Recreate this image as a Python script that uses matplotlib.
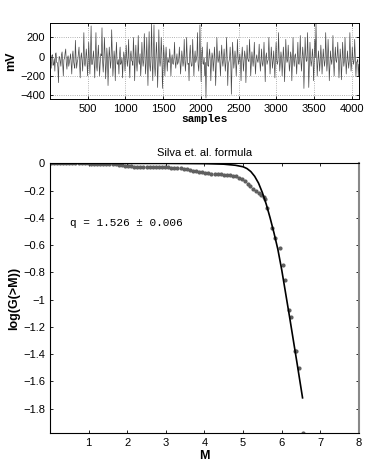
import numpy as np
import matplotlib
matplotlib.use("Agg")
import matplotlib.pyplot as plt

plt.rcParams['font.family'] = ['Liberation Sans', 'DejaVu Sans']

# ---- top panel: EEG trace (estimated peaks, 16 values per 256-sample block) ----
signal_peaks_mv = [
    60,-120,20,-80,-150,40,-60,-270,0,-100,50,-200,-20,80,-130,10,
    -60,30,-180,60,-90,170,-120,-30,100,-220,40,-150,250,-100,80,-200,
    150,-180,320,-80,60,-220,250,-150,120,-200,30,300,-160,200,-230,90,
    -300,100,-120,280,-200,60,-250,150,-80,-180,100,-60,-220,50,-150,120,
    -100,180,-220,60,-50,200,-250,120,-150,220,-80,-200,150,-100,240,-180,
    200,-300,260,-150,350,-250,330,-200,150,-320,280,-100,200,-330,120,-200,
    100,-150,-50,80,-200,20,-80,150,-120,30,-60,100,-180,60,-100,180,
    -150,200,-80,-250,120,-100,180,-200,60,-30,250,-150,330,-260,100,-80,
    -200,-430,150,-100,80,-250,40,-150,100,-300,200,-60,60,-200,120,-100,
    80,-150,200,-300,-50,100,-390,150,-120,60,-200,180,-80,30,-250,100,
    -150,60,-270,120,-40,180,-200,50,-100,150,-180,20,-60,130,-150,80,
    -100,150,-260,40,-50,200,-180,100,-120,60,-220,150,-80,250,-150,50,
    -200,100,-260,180,-60,120,-150,50,-250,200,-100,30,-180,150,-80,220,
    -150,100,-330,200,-50,250,-320,150,-100,80,-250,180,350,-200,60,-150,
    120,-180,80,-100,250,-150,180,-250,60,-80,220,-200,100,-60,150,-220,
    80,-240,150,-100,200,-180,60,-120,250,-150,100,-80,180,-200,-50,-200,
]
# smaller in-between excursions (the dark band around the baseline)
signal_minor_mv = [
    -40,10,-90,-20,30,-60,-110,0,-50,20,-80,-30,40,-70,-10,-100,
    -20,-80,10,-50,-120,0,-60,30,-90,-10,-40,20,-70,-30,0,-60,
    -30,40,-80,-10,-60,20,-100,0,-40,-70,10,-50,-20,30,-90,-10,
    -60,0,-40,30,-90,-20,10,-70,-30,20,-80,-10,-50,0,-40,-20,
    -20,-70,10,-40,-90,20,-30,-60,0,-50,30,-80,-10,-40,10,-70,
    -50,30,-90,0,-60,40,-100,-20,20,-70,-10,-40,30,-90,0,-30,
    -30,-10,-60,-20,-40,-70,-10,-50,-30,-80,-20,-40,-60,-10,-50,-30,
    -40,-10,-70,20,-50,-90,0,-30,-60,10,-80,-20,-40,30,-70,-10,
    -60,-20,-90,10,-40,-70,0,-50,-20,-80,10,-30,-60,0,-40,-20,
    -30,-60,0,-80,-20,-40,-100,10,-50,-20,-70,0,-40,-60,-10,-30,
    -40,0,-70,-20,-50,10,-80,-30,-10,-60,-20,-40,0,-50,-30,-70,
    -20,-50,0,-80,-30,10,-60,-20,-40,-70,0,-30,-50,20,-60,-10,
    -50,-10,-70,20,-40,-20,-80,0,-60,-30,10,-50,-20,-70,0,-40,
    -30,0,-90,20,-40,10,-80,-20,-50,0,-70,-10,30,-60,-20,-40,
    -10,-60,-20,-40,20,-50,-10,-80,-30,0,-60,-20,-40,10,-30,-70,
    -20,-80,0,-40,-10,-60,-30,-50,10,-70,-20,-40,0,-60,-30,-80,
]
n_samples = 4096
top_xticks = [500, 1000, 1500, 2000, 2500, 3000, 3500, 4000]
top_yticks = [-400, -200, 0, 200]

# ---- bottom panel: cumulative distribution ----
M_data = [0.02,0.10,0.18,0.26,0.34,0.42,0.50,0.58,0.66,0.74,0.82,0.90,0.98,1.06,1.14,1.22,
          1.30,1.38,1.46,1.54,1.62,1.70,1.78,1.86,
          1.94,2.02,2.10,2.18,2.26,2.34,2.42,2.50,2.58,2.66,2.74,2.82,2.90,2.98,3.06,3.14,
          3.22,3.30,3.38,3.46,3.54,3.62,3.70,3.78,3.86,3.94,4.02,
          4.10,4.18,4.26,4.34,4.42,4.50,4.58,4.66,4.74,4.82,4.90,
          4.98,5.05,5.12,5.19,5.26,5.33,5.40,5.47,5.53,5.58,5.63,5.75,5.83,5.96,
          6.03,6.09,6.18,6.25,6.34,6.37,6.46,6.54]
logG_data = [0,0,0,0,0,0,0,0,0,-0.001,-0.001,-0.001,-0.001,-0.002,-0.002,-0.002,
             -0.003,-0.003,-0.004,-0.005,-0.006,-0.008,-0.010,-0.015,
             -0.020,-0.022,-0.023,-0.024,-0.025,-0.025,-0.026,-0.026,-0.027,-0.027,-0.028,-0.028,
             -0.028,-0.029,-0.030,-0.031,
             -0.033,-0.035,-0.037,-0.040,-0.044,-0.049,-0.054,-0.058,-0.061,-0.065,-0.070,
             -0.073,-0.075,-0.077,-0.079,-0.081,-0.083,-0.085,-0.087,-0.090,-0.096,-0.106,
             -0.118,-0.130,-0.148,-0.168,-0.185,-0.205,-0.220,-0.232,-0.245,-0.265,-0.330,
             -0.475,-0.550,-0.620,-0.744,-0.854,-1.073,-1.130,-1.373,-1.373,-1.500,-1.975]

M_fit = [0.0, 3.0, 4.0, 4.5, 4.8, 5.0, 5.1, 5.2, 5.3, 5.4, 5.5, 5.6, 5.7, 5.8, 5.9, 6.0,
         6.2, 6.4, 6.54]
logG_fit = [0.0, 0.0, -0.002, -0.006, -0.014, -0.025, -0.038, -0.06, -0.095, -0.145,
            -0.215, -0.30, -0.40, -0.51, -0.63, -0.78, -1.12, -1.47, -1.72]

fit_label = "q = 1.526 ± 0.006"
title = "Silva et. al. formula"
bot_xticks = [1, 2, 3, 4, 5, 6, 7, 8]
bot_yticks = [0, -0.2, -0.4, -0.6, -0.8, -1, -1.2, -1.4, -1.6, -1.8]

fig = plt.figure(figsize=(3.74, 4.67), dpi=100)

ax1 = fig.add_axes([0.1337, 0.788, 0.826, 0.1627])
trace = np.column_stack([signal_peaks_mv, signal_minor_mv]).ravel()
x_sig = np.linspace(1, n_samples, len(trace))
ax1.plot(x_sig, trace, color='#4a4a4a', lw=0.5)
ax1.set_xlim(1, n_samples)
ax1.set_ylim(-440, 350)
ax1.set_xticks(top_xticks)
ax1.set_yticks(top_yticks)
ax1.grid(True, linestyle=':', color='#9a9a9a', lw=0.6)
ax1.tick_params(direction='in', top=True, right=True, labelsize=8, length=2.5, width=0.6)
ax1.set_ylabel('mV', fontsize=9, fontweight='bold', labelpad=2)
ax1.set_xlabel('samples', fontsize=8, fontweight='bold',
               family=['Liberation Mono', 'DejaVu Sans Mono'], labelpad=0)
for s in ax1.spines.values():
    s.set_linewidth(0.7)

ax2 = fig.add_axes([0.1337, 0.0722, 0.826, 0.578])
ax2.plot(M_data, logG_data, linestyle='none', marker='o', ms=2.0,
         color='#5f5f5f', mec='#5f5f5f')
ax2.plot(M_fit, logG_fit, color='black', lw=1.2)
ax2.set_xlim(0, 8)
ax2.set_ylim(-1.98, 0)
ax2.set_xticks(bot_xticks)
ax2.set_yticks(bot_yticks)
ax2.set_yticklabels(['0', '\u22120.2', '\u22120.4', '\u22120.6', '\u22120.8', '\u22121',
                     '\u22121.2', '\u22121.4', '\u22121.6', '\u22121.8'])
ax2.tick_params(direction='in', top=True, right=True, labelsize=8, length=2.5, width=0.6)
ax2.set_title(title, fontsize=8, pad=5)
ax2.set_ylabel('log(G(>M))', fontsize=9, fontweight='bold', labelpad=2)
ax2.set_xlabel('M', fontsize=9, fontweight='bold', labelpad=1)
ax2.text(0.52, -0.437, fit_label, fontsize=8, va='center',
         family=['Liberation Mono', 'DejaVu Sans Mono'])
for s in ax2.spines.values():
    s.set_linewidth(0.8)
ax2.spines['right'].set_color('#888888')
ax2.spines['right'].set_linewidth(1.5)

fig.savefig('out.png', dpi=100)
